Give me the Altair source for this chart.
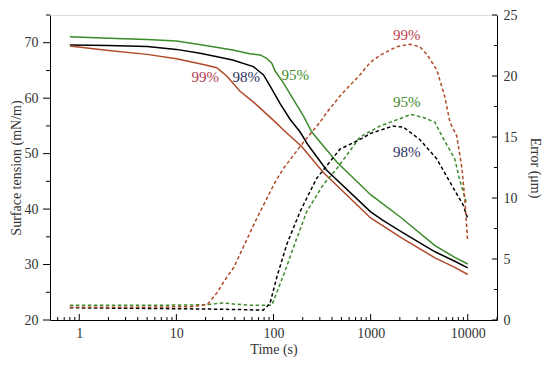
import altair as alt
import pandas as pd

# ---------------- data ----------------
series = ["95%", "98%", "99%"]
line_colors = ["#3c8a2a", "#000000", "#b04a28"]

# Surface tension (mN/m), solid lines
st95_t = [0.8, 2, 5, 10, 20, 38, 57, 73, 85, 96, 104, 126, 160, 203, 248, 448, 1000, 2080, 4600, 7350, 10000]
st95_v = [71.1, 70.8, 70.6, 70.3, 69.5, 68.7, 68.0, 67.8, 67.2, 66.3, 64.9, 62.8, 59.8, 56.8, 53.9, 48.5, 42.6, 38.4, 33.4, 31.3, 30.1]

st98_t = [0.8, 2, 5, 10, 17.6, 38, 62, 79, 92, 117, 148, 188, 228, 353, 1000, 1352, 2080, 4600, 7350, 10000]
st98_v = [69.6, 69.5, 69.3, 68.8, 68.1, 66.9, 65.7, 64.2, 62.2, 59.0, 56.2, 53.9, 51.5, 47.0, 39.5, 37.9, 35.9, 32.3, 30.6, 29.4]

st99_t = [0.8, 2, 5, 10, 20, 26, 33, 45, 67, 100, 126, 195, 326, 1000, 2080, 4600, 7350, 10000]
st99_v = [69.4, 68.6, 67.9, 67.1, 66.0, 65.5, 64.0, 61.3, 58.8, 56.0, 54.3, 51.3, 46.6, 38.4, 34.8, 31.2, 29.5, 28.2]

# Error (um), dashed lines
er95_t = [0.8, 5, 20, 30, 40, 60, 85, 96, 130, 170, 220, 326, 448, 778, 1250, 1850, 2600, 3500, 4600, 5400, 7350, 8200, 9750]
er95_v = [1.2, 1.2, 1.25, 1.4, 1.3, 1.2, 1.2, 1.2, 3.9, 6.5, 8.9, 11.1, 12.4, 15.0, 15.9, 16.4, 16.85, 16.6, 16.2, 15.1, 13.2, 11.6, 9.5]

er98_t = [0.8, 5, 20, 50, 78, 92, 108, 137, 188, 278, 483, 778, 1000, 1700, 2180, 3200, 4800, 6560, 9000, 9900]
er98_v = [1.0, 0.95, 0.9, 0.85, 0.8, 1.35, 3.5, 6.2, 8.9, 11.6, 14.0, 14.8, 15.3, 15.9, 15.8, 14.8, 13.2, 11.3, 9.4, 8.4]

er99_t = [0.8, 5, 15, 21, 26, 33, 39, 49, 67, 104, 126, 200, 300, 353, 500, 778, 986, 1247, 1855, 2540, 3200, 3776, 4800, 5800, 6560, 7690, 8730, 9370, 9960]
er99_v = [1.05, 1.05, 1.1, 1.3, 2.2, 3.5, 4.3, 6.0, 8.3, 11.3, 12.4, 14.5, 16.2, 17.0, 18.5, 20.1, 21.1, 21.7, 22.4, 22.6, 22.4, 21.8, 20.5, 18.3, 16.2, 15.1, 12.4, 9.7, 6.5]

# annotations
st_lab_text = ["99%", "98%", "95%"]
st_lab_t = [19.8, 52.3, 167]
st_lab_v = [63.8, 63.8, 64.1]
st_lab_col = ["#b03a50", "#2e2e60", "#3c8a2a"]

er_lab_text = ["99%", "95%", "98%"]
er_lab_t = [2350, 2350, 2350]
er_lab_v = [23.4, 17.9, 13.75]
er_lab_col = ["#c0404f", "#3c8a2a", "#2e2e60"]

x_major = [1, 10, 100, 1000, 10000]
x_minor = [0.6, 0.7, 0.8, 0.9] + [m * d for d in [1, 10, 100, 1000] for m in range(2, 10)] + [20000]
left_major = [20, 30, 40, 50, 60, 70]
left_minor = [25, 35, 45, 55, 65, 75]
right_major = [0, 5, 10, 15, 20, 25]
right_minor = [2.5, 7.5, 12.5, 17.5, 22.5]

# ---------------- build tables ----------------
def long(ts, vs, names):
    rows = []
    for tt, vv, n in zip(ts, vs, names):
        for a, b in zip(tt, vv):
            rows.append({"t": a, "v": b, "s": n})
    return pd.DataFrame(rows)

st_df = long([st95_t, st98_t, st99_t], [st95_v, st98_v, st99_v], series)
er_df = long([er95_t, er98_t, er99_t], [er95_v, er98_v, er99_v], series)
st_lab = pd.DataFrame({"t": st_lab_t, "v": st_lab_v, "txt": st_lab_text, "c": st_lab_col})
er_lab = pd.DataFrame({"t": er_lab_t, "v": er_lab_v, "txt": er_lab_text, "c": er_lab_col})

W, H = 447, 305
FONT = "Liberation Serif"
TXT = "#333333"

xscale = alt.Scale(type="log", domain=[0.5, 20000], nice=False)
xaxis = alt.Axis(values=x_major, labelExpr="format(datum.value, 'd')", ticks=False, grid=False,
                 title="Time (s)", labelPadding=6, titlePadding=2, domainColor="#000",
                 labelFont=FONT, labelFontSize=14, labelColor=TXT, titleFont=FONT,
                 titleFontSize=14, titleFontWeight="normal", titleColor=TXT, labelFlush=False)

def X():
    return alt.X("t:Q", scale=xscale, axis=xaxis)

st_scale = alt.Scale(domain=[20, 75], nice=False, zero=False)
er_scale = alt.Scale(domain=[0, 25], nice=False, zero=False)
color = alt.Color("s:N", scale=alt.Scale(domain=series, range=line_colors), legend=None)

left_axis = alt.Axis(values=left_major, ticks=False, grid=False, title="Surface tension (mN/m)",
                     labelPadding=12, titlePadding=1, domainColor="#000",
                     labelFont=FONT, labelFontSize=14, labelColor=TXT, titleFont=FONT,
                     titleFontSize=14, titleFontWeight="normal", titleColor=TXT, labelFlush=False)
right_axis = alt.Axis(orient="right", values=right_major, ticks=False, grid=False, title="Error (μm)",
                      labelPadding=6, titlePadding=10, domainColor="#000",
                      labelFont=FONT, labelFontSize=14, labelColor=TXT, titleFont=FONT,
                      titleFontSize=14, titleFontWeight="normal", titleColor=TXT, labelFlush=False)

solid = alt.Chart(st_df).mark_line(strokeWidth=1.5).encode(
    x=X(), y=alt.Y("v:Q", scale=st_scale, axis=left_axis), color=color)

dashed = alt.Chart(er_df).mark_line(strokeWidth=1.5, strokeDash=[3.5, 2.5]).encode(
    x=X(), y=alt.Y("v:Q", scale=er_scale, axis=right_axis), color=color)

st_text = alt.Chart(st_lab).mark_text(font=FONT, fontSize=15).encode(
    x=X(), y=alt.Y("v:Q", scale=st_scale, axis=None), text="txt:N",
    color=alt.Color("c:N", scale=None))

er_text = alt.Chart(er_lab).mark_text(font=FONT, fontSize=15).encode(
    x=X(), y=alt.Y("v:Q", scale=er_scale, axis=None), text="txt:N",
    color=alt.Color("c:N", scale=None))

def xticks(vals, ln):
    df = pd.DataFrame({"t": vals})
    return alt.Chart(df).mark_rule(color="#000", strokeWidth=1).encode(
        x=X(), y=alt.value(H), y2=alt.value(H - ln))

def lticks(vals, ln):
    df = pd.DataFrame({"v": vals})
    return alt.Chart(df).mark_rule(color="#000", strokeWidth=1).encode(
        y=alt.Y("v:Q", scale=st_scale, axis=None), x=alt.value(0), x2=alt.value(-ln))

def rticks(vals, ln):
    df = pd.DataFrame({"v": vals})
    return alt.Chart(df).mark_rule(color="#000", strokeWidth=1).encode(
        y=alt.Y("v:Q", scale=er_scale, axis=None), x=alt.value(W), x2=alt.value(W - ln))

chart = alt.layer(
    solid, dashed, st_text, er_text,
    xticks(x_major, 6), xticks(x_minor, 3),
    lticks(left_major, 7), lticks(left_minor, 4),
    rticks(right_major, 5), rticks(right_minor, 3),
).resolve_scale(y="independent", color="independent").properties(
    width=W, height=H,
    autosize=alt.AutoSizeParams(type="none"),
    padding={"left": 42, "top": 7, "right": 45, "bottom": 37},
).configure_view(stroke="#000", strokeWidth=1).configure_text(font=FONT).configure(
    background="white", font=FONT)

chart.save("out.html", embed_options={"renderer": "svg", "actions": False})
